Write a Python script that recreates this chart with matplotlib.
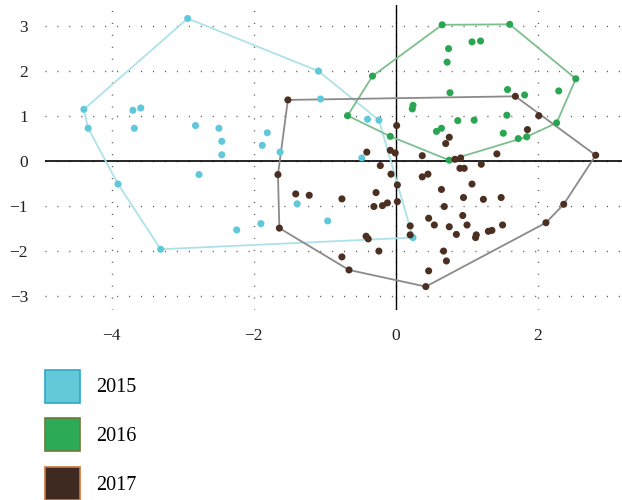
import numpy as np
import matplotlib
matplotlib.use("Agg")
import matplotlib.pyplot as plt
from matplotlib.patches import Patch

# scores per year
x2015 = [-2.93, -4.39, -4.33, -3.70, -3.59, -3.68, -2.82, -2.49, -2.45, -2.45, -1.09, -1.06, -1.81,
         -1.88, -1.63, -0.40, -0.24, -0.48, -3.91, -2.77, -2.24, -3.31, -1.39, -1.90, -0.96, 0.24]
y2015 = [3.17, 1.15, 0.73, 1.13, 1.18, 0.73, 0.79, 0.73, 0.44, 0.14, 2.00, 1.38, 0.63,
         0.35, 0.20, 0.93, 0.91, 0.07, -0.51, -0.30, -1.53, -1.96, -0.95, -1.39, -1.33, -1.70]

x2016 = [0.65, 1.60, 1.07, 1.19, 0.74, 0.72, 2.53, 0.76, 1.57, 1.81, 2.29, 0.87, 1.10,
         1.56, 0.57, 0.64, 1.51, 1.72, 1.84, 2.26, 0.75, -0.33, -0.68, -0.08, 0.24, 0.23]
y2016 = [3.03, 3.04, 2.65, 2.67, 2.50, 2.20, 1.83, 1.52, 1.59, 1.47, 1.56, 0.90, 0.91,
         1.02, 0.66, 0.73, 0.62, 0.50, 0.54, 0.85, 0.02, 1.89, 1.01, 0.55, 1.24, 1.16]

x2017 = [-1.52, 0.01, -0.41, -0.08, -0.01, 0.37, -0.22, 1.68, 2.01, 1.85, 0.75, 0.70, 2.81,
         0.83, 0.91, 1.42, 1.20, 0.90, 0.96, -1.66, -1.64, -1.41, -1.22, -0.76, -0.28, -0.31,
         -0.19, -0.12, 0.02, 0.02, -0.07, 0.37, 0.45, 0.20, 0.20, -0.42, -0.39, -0.24, -0.76,
         -0.66, 0.42, 0.46, 0.46, 0.64, 1.07, 0.95, 1.23, 1.48, 0.68, 0.94, 0.54, 0.75, 1.00,
         0.85, 1.13, 1.12, 1.30, 1.35, 1.50, 2.11, 2.36, 0.67, 0.71]
y2017 = [1.36, 0.79, 0.20, 0.24, 0.18, 0.12, -0.10, 1.44, 1.01, 0.70, 0.53, 0.39, 0.13,
         0.04, 0.07, 0.16, -0.07, -0.16, -0.16, -0.30, -1.49, -0.73, -0.76, -0.84, -0.70, -1.01,
         -0.99, -0.93, -0.90, -0.53, -0.29, -0.35, -0.29, -1.44, -1.64, -1.67, -1.73, -2.00, -2.13,
         -2.42, -2.79, -2.44, -1.27, -0.63, -0.51, -0.81, -0.85, -0.81, -1.01, -1.21, -1.42, -1.46, -1.42,
         -1.63, -1.64, -1.70, -1.56, -1.54, -1.42, -1.37, -0.96, -2.00, -2.22]

years = ['2015', '2016', '2017']
dot_colors = ['#5fc8da', '#2aa552', '#4b3022']
hull_colors = ['#ade2eb', '#7dbf8e', '#8c8a88']
legend_faces = ['#63c9d9', '#2daa55', '#3e2a20']
legend_edges = ['#2aa9c9', '#6b7a3a', '#d2763a']


def convex_hull(xs, ys):
    pts = sorted(set(zip(xs, ys)))

    def cross(o, a, b):
        return (a[0] - o[0]) * (b[1] - o[1]) - (a[1] - o[1]) * (b[0] - o[0])

    lower, upper = [], []
    for p in pts:
        while len(lower) >= 2 and cross(lower[-2], lower[-1], p) <= 0:
            lower.pop()
        lower.append(p)
    for p in reversed(pts):
        while len(upper) >= 2 and cross(upper[-2], upper[-1], p) <= 0:
            upper.pop()
        upper.append(p)
    hull = lower[:-1] + upper[:-1]
    hull.append(hull[0])
    return np.array(hull)


plt.rcParams['font.family'] = ['Liberation Serif', 'DejaVu Serif']

fig = plt.figure(figsize=(6.22, 5.0), dpi=100)
ax = fig.add_axes([0.072, 0.38, 0.928, 0.61])

data = [(x2015, y2015), (x2016, y2016), (x2017, y2017)]
for (xs, ys), hc in zip(data, hull_colors):
    h = convex_hull(xs, ys)
    ax.plot(h[:, 0], h[:, 1], color=hc, lw=1.3, zorder=2)
for (xs, ys), dc in zip(data, dot_colors):
    ax.scatter(xs, ys, s=26, color=dc, edgecolors='none', zorder=3)

ax.axhline(0, color='black', lw=1.2, zorder=1)
ax.axvline(0, color='black', lw=1.0, zorder=1)

ax.set_xlim(-4.94, 3.18)
ax.set_ylim(-3.31, 3.47)
ax.set_xticks([-4, -2, 0, 2])
ax.set_yticks([-3, -2, -1, 0, 1, 2, 3])
ax.grid(True, color='#444444', linestyle=(0, (0.7, 7.9)), lw=1.0)
ax.set_axisbelow(True)
for s in ax.spines.values():
    s.set_visible(False)
ax.tick_params(length=0, labelsize=12.5, colors='#222222')
ax.tick_params(axis='x', pad=13)
ax.tick_params(axis='y', pad=12)

handles = [Patch(facecolor=f, edgecolor=e, lw=1.2) for f, e in zip(legend_faces, legend_edges)]
fig.legend(handles, years, loc='upper left', bbox_to_anchor=(0.050, 0.289), frameon=False,
           fontsize=14.5, handlelength=1.75, handleheight=2.15, labelspacing=0.77,
           handletextpad=0.8, borderpad=0.2)

fig.savefig('out.png', dpi=100)
